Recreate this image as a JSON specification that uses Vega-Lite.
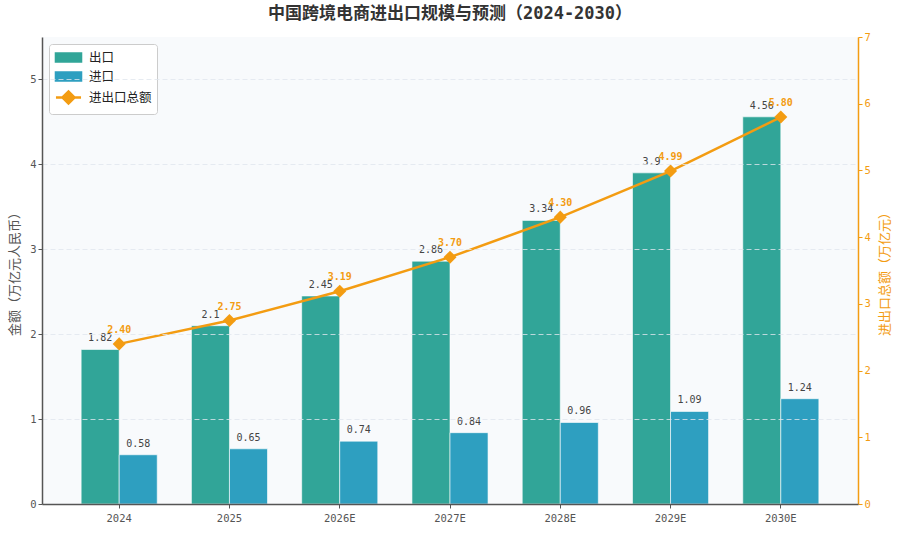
{
  "$schema": "https://vega.github.io/schema/vega-lite/v6.json",
  "width": 816,
  "height": 467,
  "autosize": {"type": "none"},
  "padding": {"left": 42, "top": 37, "right": 42, "bottom": 31},
  "background": "white",
  "title": {
    "text": "中国跨境电商进出口规模与预测（2024-2030）",
    "fontSize": 17,
    "fontWeight": "bold",
    "color": "#333333",
    "font": "DejaVu Sans Mono, Noto Sans CJK SC",
    "offset": 9,
    "anchor": "middle"
  },
  "datasets": {
    "bars": [
      {"year": "2024", "type": "出口", "value": 1.82},
      {"year": "2024", "type": "进口", "value": 0.58},
      {"year": "2025", "type": "出口", "value": 2.1},
      {"year": "2025", "type": "进口", "value": 0.65},
      {"year": "2026E", "type": "出口", "value": 2.45},
      {"year": "2026E", "type": "进口", "value": 0.74},
      {"year": "2027E", "type": "出口", "value": 2.86},
      {"year": "2027E", "type": "进口", "value": 0.84},
      {"year": "2028E", "type": "出口", "value": 3.34},
      {"year": "2028E", "type": "进口", "value": 0.96},
      {"year": "2029E", "type": "出口", "value": 3.9},
      {"year": "2029E", "type": "进口", "value": 1.09},
      {"year": "2030E", "type": "出口", "value": 4.56},
      {"year": "2030E", "type": "进口", "value": 1.24}
    ],
    "total": [
      {"year": "2024", "total": 2.40},
      {"year": "2025", "total": 2.75},
      {"year": "2026E", "total": 3.19},
      {"year": "2027E", "total": 3.70},
      {"year": "2028E", "total": 4.30},
      {"year": "2029E", "total": 4.99},
      {"year": "2030E", "total": 5.80}
    ]
  },
  "encoding": {
    "x": {
      "field": "year",
      "type": "nominal",
      "sort": null,
      "scale": {"paddingInner": 0.31, "paddingOuter": 0.355},
      "axis": {
        "title": null,
        "labelAngle": 0,
        "labelColor": "#555555",
        "labelFontSize": 10.5,
        "labelPadding": 5,
        "tickColor": "#555555",
        "tickSize": 4,
        "domainColor": "#555555",
        "domainWidth": 1.5,
        "grid": false,
        "zindex": 1
      }
    }
  },
  "layer": [
    {
      "data": {"name": "bars"},
      "encoding": {
        "xOffset": {"field": "type", "type": "nominal", "sort": ["出口", "进口"]},
        "y": {
          "field": "value",
          "type": "quantitative",
          "scale": {"domain": [0, 5.5], "nice": false},
          "axis": {
            "title": "金额（万亿元人民币）",
            "titleColor": "#555555",
            "titleFontSize": 13,
            "titleFontWeight": "normal",
            "titlePadding": 8,
            "values": [0, 1, 2, 3, 4, 5],
            "labelColor": "#555555",
            "labelFontSize": 10.5,
            "tickColor": "#555555",
            "tickSize": 4,
            "domainColor": "#555555",
            "domainWidth": 1.5,
            "grid": true,
            "gridColor": "#dfe6ee",
            "gridDash": [5, 3],
            "gridWidth": 0.8,
            "zindex": 1
          }
        }
      },
      "layer": [
        {
          "mark": {"type": "bar", "stroke": "white", "strokeWidth": 0.6},
          "encoding": {
            "color": {
              "field": "type",
              "type": "nominal",
              "scale": {
                "domain": ["出口", "进口", "进出口总额"],
                "range": ["#31a598", "#2e9fc0", "#f39c12"]
              },
              "legend": {
                "title": null,
                "orient": "top-left",
                "offset": 7,
                "fillColor": "white",
                "strokeColor": "#cccccc",
                "cornerRadius": 3,
                "padding": 5,
                "labelFontSize": 12.5,
                "labelColor": "#222222",
                "labelFont": "Noto Sans CJK SC",
                "rowPadding": 0,
                "symbolSize": 196,
                "symbolType": "M-1.79,-0.57H1.79V0.57H-1.79Z",
                "symbolStrokeWidth": 2.5,
                "symbolOffset": 6,
                "labelOffset": 12
              }
            }
          }
        },
        {
          "transform": [{"filter": "datum.type === '出口'"}],
          "mark": {
            "type": "text",
            "baseline": "bottom",
            "dy": -6,
            "fontSize": 10,
            "font": "DejaVu Sans Mono",
            "color": "#444444"
          },
          "encoding": {"text": {"field": "value", "type": "quantitative"}}
        },
        {
          "transform": [{"filter": "datum.type === '进口'"}],
          "mark": {
            "type": "text",
            "baseline": "bottom",
            "dy": -6,
            "fontSize": 10,
            "font": "DejaVu Sans Mono",
            "color": "#444444"
          },
          "encoding": {"text": {"field": "value", "type": "quantitative", "format": ".2f"}}
        }
      ]
    },
    {
      "data": {"name": "total"},
      "encoding": {
        "y": {
          "field": "total",
          "type": "quantitative",
          "scale": {"domain": [0, 7], "nice": false},
          "axis": {
            "orient": "right",
            "title": "进出口总额（万亿元）",
            "titleAngle": 270,
            "titleBaseline": "top",
            "titleColor": "#f39c12",
            "titleFontSize": 13,
            "titleFontWeight": "normal",
            "titlePadding": 8,
            "values": [0, 1, 2, 3, 4, 5, 6, 7],
            "labelColor": "#f39c12",
            "labelFontSize": 10.5,
            "tickColor": "#f39c12",
            "tickSize": 4,
            "domainColor": "#f39c12",
            "domainWidth": 1.5,
            "grid": false
          }
        }
      },
      "layer": [
        {
          "mark": {"type": "line", "strokeWidth": 2.5},
          "encoding": {"color": {"datum": "进出口总额", "legend": null}}
        },
        {
          "mark": {"type": "point", "shape": "diamond", "filled": true, "size": 170, "opacity": 1},
          "encoding": {"color": {"datum": "进出口总额", "legend": null}}
        },
        {
          "mark": {"type": "point", "size": 0},
          "encoding": {
            "shape": {
              "datum": "进出口总额",
              "scale": {
                "domain": ["出口", "进口", "进出口总额"],
                "range": [
                  "M-1.79,-0.57H1.79V0.57H-1.79Z",
                  "M-1.79,-0.57H1.79V0.57H-1.79Z",
                  "M-1.79,0H1.79M-0.86,0L0,-0.86L0.86,0L0,0.86Z"
                ]
              }
            },
            "stroke": {
              "datum": "进出口总额",
              "scale": {
                "domain": ["出口", "进口", "进出口总额"],
                "range": ["transparent", "transparent", "#f39c12"]
              }
            }
          }
        },
        {
          "mark": {
            "type": "text",
            "baseline": "bottom",
            "dy": -9,
            "fontSize": 10,
            "fontWeight": "bold",
            "font": "DejaVu Sans Mono",
            "color": "#f39c12"
          },
          "encoding": {"text": {"field": "total", "type": "quantitative", "format": ".2f"}}
        }
      ]
    }
  ],
  "resolve": {"scale": {"y": "independent"}},
  "config": {
    "view": {"fill": "#f8fafc", "stroke": null},
    "font": "DejaVu Sans Mono, Noto Sans CJK SC",
    "axis": {"labelFont": "DejaVu Sans Mono", "titleFont": "Noto Sans CJK SC"}
  }
}
